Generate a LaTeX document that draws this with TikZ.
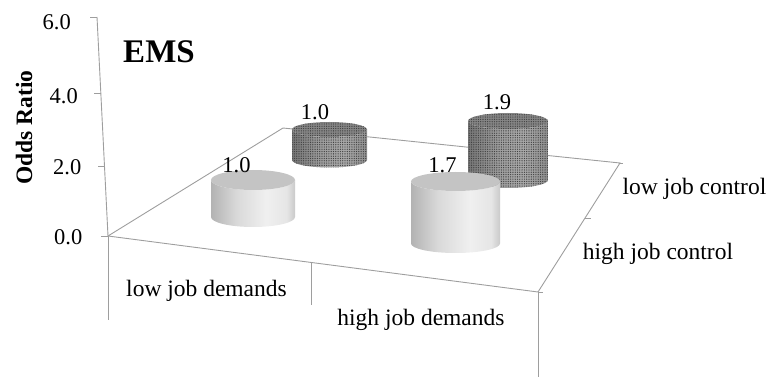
\documentclass[tikz,border=0pt]{standalone}
\usepackage{fontspec}
\setmainfont{Liberation Serif}
\usetikzlibrary{patterns.meta}

\definecolor{axisgray}{gray}{0.62}
\definecolor{lightA}{gray}{0.70}
\definecolor{lightB}{gray}{0.85}
\definecolor{lightC}{gray}{0.94}
\definecolor{lightD}{gray}{0.90}
\definecolor{lightE}{gray}{0.79}
\definecolor{lighttopgray}{gray}{0.77}
\definecolor{darkA}{gray}{0.46}
\definecolor{darkB}{gray}{0.62}
\definecolor{darkC}{gray}{0.66}
\definecolor{darkD}{gray}{0.56}
\definecolor{darktopgray}{gray}{0.52}
\definecolor{dotgray}{gray}{0.25}

% horizontal shadings for the cylinder walls
\pgfdeclarehorizontalshading{lightgrad}{100bp}{color(0bp)=(lightA); color(25bp)=(lightA); color(40bp)=(lightB); color(58bp)=(lightC); color(70bp)=(lightD); color(75bp)=(lightE); color(100bp)=(lightE)}
\pgfdeclarehorizontalshading{darkgrad}{100bp}{color(0bp)=(darkA); color(25bp)=(darkA); color(45bp)=(darkB); color(60bp)=(darkC); color(75bp)=(darkD); color(100bp)=(darkD)}

% cylinder: centre x, top y, bottom y, x radius, y radius, kind (light/dark)
\newcommand\drawcyl[6]{%
  \path[#6wall] (#1-#4,#2) -- (#1-#4,#3)
    arc[start angle=180,end angle=360,x radius=#4,y radius=#5]
    -- (#1+#4,#2)
    arc[start angle=0,end angle=-180,x radius=#4,y radius=#5] -- cycle;
  \path[#6top] (#1,#2) ellipse[x radius=#4,y radius=#5];
}

\begin{document}
\begin{tikzpicture}[x=1pt,y=1pt,
  axisline/.style={draw=axisgray,line width=0.9pt},
  ticklabel/.style={font=\fontsize{22.5}{27}\selectfont,anchor=east,inner sep=0pt},
  catlabel/.style={font=\fontsize{23.5}{28}\selectfont,anchor=base,inner sep=0pt},
  vallabel/.style={font=\fontsize{22.5}{26}\selectfont,inner sep=0pt},
  lightwall/.style={shade,shading=lightgrad},
  lighttop/.style={fill=lighttopgray},
  darkwall/.style={shade,shading=darkgrad,
    postaction={pattern={Dots[distance=2.3pt,radius=0.65pt]},pattern color=dotgray}},
  darktop/.style={fill=darktopgray,
    postaction={pattern={Dots[distance=2.3pt,radius=0.65pt]},pattern color=dotgray}},
]
\useasboundingbox (0,0) rectangle (772,-377);

% floor corners and axis points
\coordinate (o)  at (108,-236);
\coordinate (fr) at (538,-292);
\coordinate (br) at (620,-163);
\coordinate (bl) at (283,-128);
\coordinate (top) at (97,-17);
\coordinate (mid) at (311,-262.4);
\coordinate (ctick) at (585,-218);

% floor outline
\draw[axisline] (o) -- (fr) -- (br) -- (bl) -- cycle;
\draw[axisline] (br) -- ++(3,0);
\draw[axisline] (ctick) -- ++(6,0);
\draw[axisline] (fr) -- ++(5,0);

% front walls of the category axis
\draw[axisline] (o) -- ++(0,-84);
\draw[axisline] (mid) -- (311,-305);
\draw[axisline] (fr) -- (538,-377);

% vertical value axis with ticks
\draw[axisline] (top) -- (o);
\coordinate (t6) at (97,-17);
\coordinate (t4) at (100.8,-93);
\coordinate (t2) at (104.5,-166);
\coordinate (t0) at (108,-236);
\foreach \t in {t6,t4,t2,t0} \draw[axisline] (\t) -- ++(-7,0);

\node[ticklabel] (l6) at (71,-22) {6.0};
\node[ticklabel] (l4) at (78,-96) {4.0};
\node[ticklabel] (l2) at (81.5,-167.5) {2.0};
\node[ticklabel] (l0) at (82.5,-237.5) {0.0};

% bars: back row first, then front row
\drawcyl{329.5}{-129.5}{-160}{37.5}{7.5}{dark}
\drawcyl{508}{-121}{-180}{40}{8}{dark}
\drawcyl{253}{-180}{-217}{42}{10}{light}
\drawcyl{455.5}{-181.5}{-243.5}{44.5}{9.5}{light}

% value labels
\node[vallabel] (v1) at (236.5,-165.5) {1.0};
\node[vallabel] (v2) at (315,-112.5) {1.0};
\node[vallabel] (v3) at (497,-102.5) {1.9};
\node[vallabel] (v4) at (442.5,-165.5) {1.7};

% category labels
\node[catlabel] (c1) at (206.5,-296) {low job demands};
\node[catlabel] (c2) at (421,-325) {high job demands};
\node[catlabel] (c3) at (694.5,-195) {low job control};
\node[catlabel] (c4) at (658,-259) {high job control};

% title and axis title
\node[font=\bfseries\fontsize{33}{38}\selectfont,anchor=base,inner sep=0pt] (title) at (159,-63) {EMS};
\node[font=\bfseries\fontsize{23.5}{28}\selectfont,anchor=base,rotate=90,inner sep=0pt] (ytitle) at (32,-127.5) {Odds Ratio};
\end{tikzpicture}
\end{document}
